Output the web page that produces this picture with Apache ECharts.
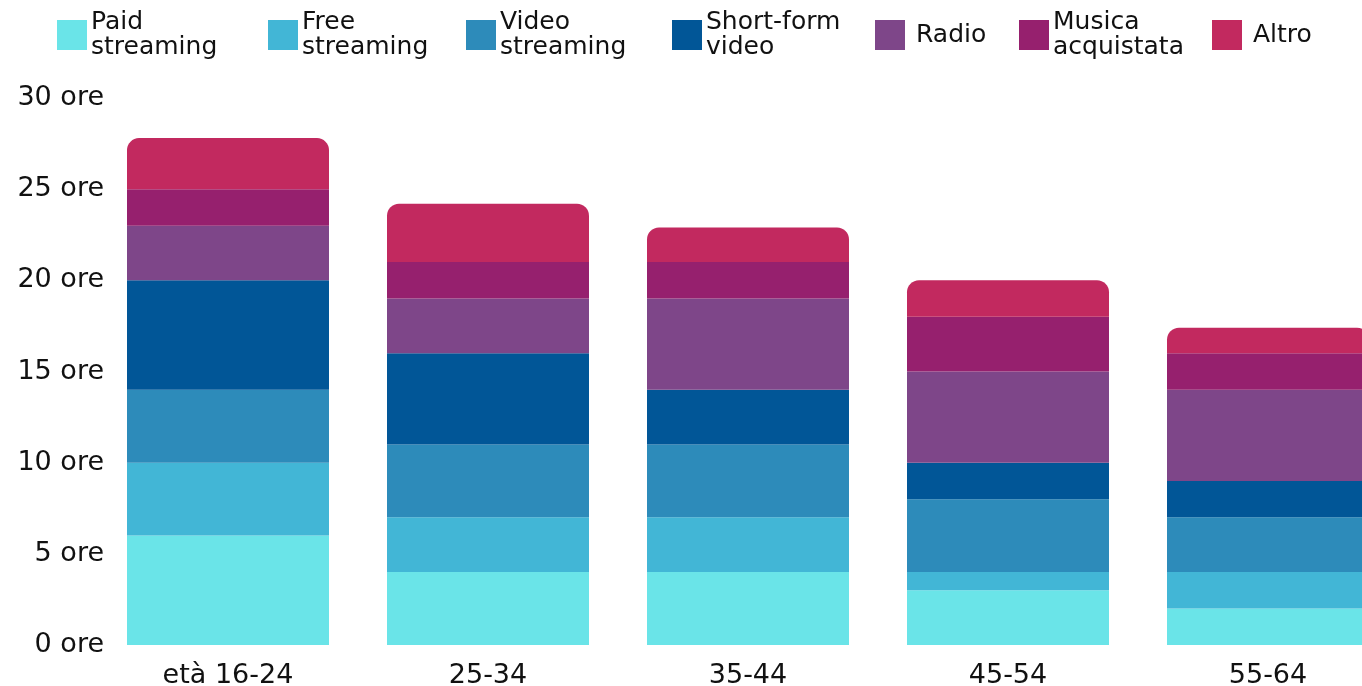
<!DOCTYPE html>
<html><head><meta charset="utf-8">
<script src="https://cdn.jsdelivr.net/npm/echarts@6/dist/echarts.min.js"></script>
<style>html,body{margin:0;padding:0;background:#fff}#c{width:1362px;height:686px}</style>
</head><body><div id="c"></div>
<script>
const categories = ['età 16-24', '25-34', '35-44', '45-54', '55-64'];
const seriesNames = ['Paid streaming', 'Free streaming', 'Video streaming', 'Short-form video', 'Radio', 'Musica acquistata', 'Altro'];
const legendLabels = ['Paid\nstreaming', 'Free\nstreaming', 'Video\nstreaming', 'Short-form\nvideo', 'Radio', 'Musica\nacquistata', 'Altro'];
const paidStreaming   = [6, 4, 4, 3, 2];
const freeStreaming   = [4, 3, 3, 1, 2];
const videoStreaming  = [4, 4, 4, 4, 3];
const shortFormVideo  = [6, 5, 3, 2, 2];
const radio           = [3, 3, 5, 5, 5];
const musicaAcquistata= [2, 2, 2, 3, 2];
const altro           = [2.8, 3.2, 1.9, 2, 1.4];
const yTicks = [0, 5, 10, 15, 20, 25, 30];
const yUnit = ' ore';

const values = [paidStreaming, freeStreaming, videoStreaming, shortFormVideo, radio, musicaAcquistata, altro];
const colors = ['#6AE4E8', '#42B6D6', '#2D8BBA', '#015697', '#7E4689', '#96206E', '#C2295F'];
const legendX = [57, 268, 466, 672, 875, 1019, 1212];
const FONT = 'DejaVu Sans';

const chart = echarts.init(document.getElementById('c'), null, {renderer: 'canvas'});
const legends = seriesNames.map((n, i) => {
  const two = legendLabels[i].indexOf('\n') >= 0;
  return {
    data: [n], left: legendX[i], top: two ? 7 : 20, icon: 'rect', padding: 0,
    itemWidth: 30, itemHeight: 30, selectedMode: false,
    formatter: () => legendLabels[i],
    textStyle: {fontFamily: FONT, fontSize: 25, lineHeight: 25, color: '#111',
      padding: two ? [6,0,0,-1] : [4,0,0,6]}
  };
});
chart.setOption({
  animation: false,
  textStyle: {fontFamily: FONT},
  legend: legends,
  grid: {left: 98, width: 1300, top: 98, bottom: 41, containLabel: false, outerBoundsMode: 'none'},
  xAxis: {type: 'category', data: categories,
    axisLine: {show: false}, axisTick: {show: false},
    axisLabel: {fontFamily: FONT, fontSize: 27, color: '#111', margin: 17}},
  yAxis: {type: 'value', min: yTicks[0], max: yTicks[yTicks.length-1], interval: 5,
    splitLine: {show: false}, axisLine: {show: false}, axisTick: {show: false},
    axisLabel: {fontFamily: FONT, fontSize: 27, color: '#111', margin: -6,
      formatter: v => v + yUnit}},
  series: seriesNames.map((n, i) => ({
    name: n, type: 'bar', stack: 'total', data: values[i], barWidth: 202,
    itemStyle: {color: colors[i], borderRadius: i === seriesNames.length - 1 ? [12,12,0,0] : 0}
  }))
});
</script></body></html>
